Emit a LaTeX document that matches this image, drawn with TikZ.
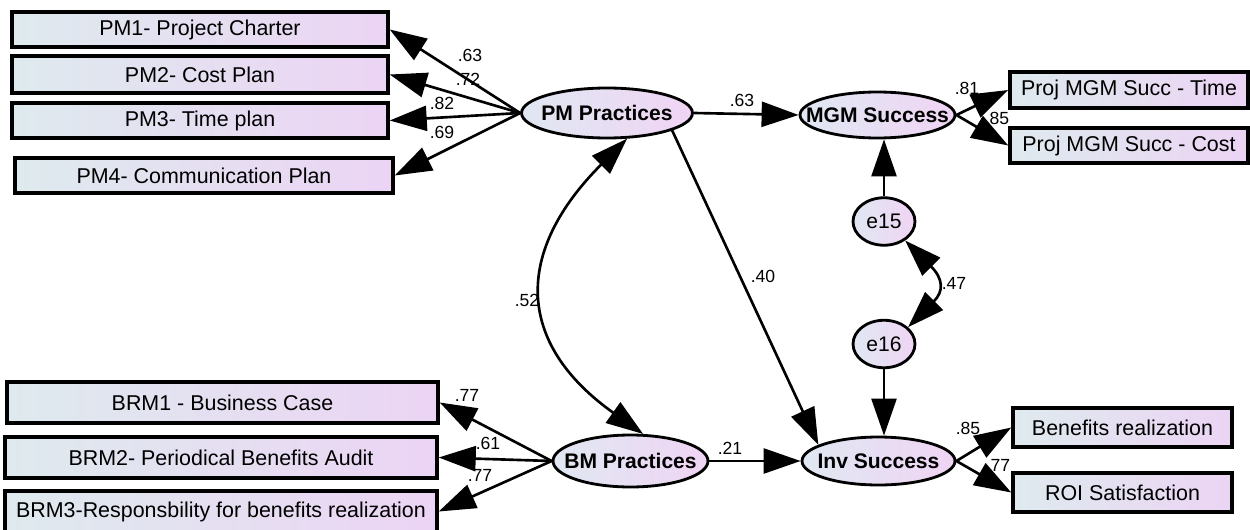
\documentclass[tikz,border=0pt]{standalone}
\usepackage{fontspec}
\setmainfont{Liberation Sans}
\usetikzlibrary{arrows.meta,shapes.geometric}
\definecolor{boxL}{RGB}{222,234,238}
\definecolor{boxR}{RGB}{236,212,244}
\definecolor{ellL}{RGB}{224,232,242}
\definecolor{ellR}{RGB}{240,212,244}
\tikzset{
  obsbox/.style={draw, line width=2pt, left color=boxL, right color=boxR, inner sep=0pt,
    font=\fontsize{12.2}{14}\selectfont, minimum height=0.72cm},
  latent/.style={ellipse, draw, line width=1.6pt, left color=ellL, right color=ellR, inner sep=0pt,
    label={[font=\bfseries\fontsize{12}{14}\selectfont, inner sep=0pt]center:#1}},
  errnode/.style={ellipse, draw, line width=1.6pt, left color=ellL, right color=ellR, inner sep=0pt,
    minimum width=1.24cm, minimum height=0.95cm,
    label={[font=\fontsize{12}{14}\selectfont, inner sep=0pt]center:#1}},
  path/.style={line width=1.5pt, -{Triangle[length=0.74cm,width=0.5cm]}},
  covpath/.style={line width=1.5pt, {Triangle[length=0.74cm,width=0.5cm]}-{Triangle[length=0.74cm,width=0.5cm]}},
  coef/.style={font=\fontsize{10}{11}\selectfont, inner sep=0pt}
}
\begin{document}
\begin{tikzpicture}[x=0.02cm,y=-0.02cm]
\useasboundingbox[fill=white] (0,0) rectangle (1250,530);
% observed boxes
\node[obsbox, minimum width=7.52cm, minimum height=0.70cm] (pm1) at (200,29.5) {PM1- Project Charter};
\node[obsbox, minimum width=7.52cm, minimum height=0.74cm] (pm2) at (200,74.5) {PM2- Cost Plan};
\node[obsbox, minimum width=7.52cm, minimum height=0.70cm] (pm3) at (200,120.5) {PM3- Time plan};
\node[obsbox, minimum width=7.56cm, minimum height=0.70cm] (pm4) at (204,175.5) {PM4- Communication Plan};
\node[obsbox, minimum width=4.76cm] (time) at (1129,90) {Proj MGM Succ - Time};
\node[obsbox, minimum width=4.76cm, minimum height=0.70cm] (cost) at (1129,145.5) {Proj MGM Succ - Cost};
\node[obsbox, minimum width=8.62cm, minimum height=0.82cm] (brm1) at (222.5,402.5) {BRM1 - Business Case};
\node[obsbox, minimum width=8.64cm, minimum height=0.82cm] (brm2) at (221,457.5) {BRM2- Periodical Benefits Audit};
\node[obsbox, minimum width=8.64cm, minimum height=0.82cm] (brm3) at (221,511.5) {BRM3-Responsbility for benefits realization};
\node[obsbox, minimum width=4.38cm, minimum height=0.78cm] (ben) at (1122.5,427.5) {Benefits realization};
\node[obsbox, minimum width=4.38cm, minimum height=0.78cm] (roi) at (1122.5,492.5) {ROI Satisfaction};
% latent
\node[latent=PM Practices, minimum width=3.42cm, minimum height=1.0cm] (pm) at (607,113) {};
\node[latent=MGM Success, minimum width=3.10cm, minimum height=0.92cm] (mgm) at (877.5,115) {};
\node[latent=BM Practices, minimum width=3.10cm, minimum height=1.04cm] (bm) at (630.5,461) {};
\node[latent=Inv Success, minimum width=3.06cm, minimum height=0.96cm] (inv) at (878.5,461) {};
\node[errnode=e15] (e15) at (884,221.5) {};
\node[errnode=e16] (e16) at (884,344) {};
% paths
\draw[path] (pm.west) -- (pm1.east);
\draw[path] (pm.west) -- (pm2.east);
\draw[path] (pm.west) -- (pm3.east);
\draw[path] (pm.west) -- (pm4.east);
\draw[path] (pm.east) -- (mgm.west);
\draw[path] (pm.-15) -- (inv.165);
\draw[path] (mgm.east) -- (time.west);
\draw[path] (mgm.east) -- (cost.west);
\draw[path] (e15.north) -- (mgm.south -| e15.north);
\draw[path] (e16.south) -- (inv.north -| e16.south);
\draw[path] (bm.west) -- (brm1.east);
\draw[path] (bm.west) -- (brm2.east);
\draw[path] (bm.west) -- (brm3.east);
\draw[path] (bm.east) -- (inv.west);
\draw[path] (inv.east) -- (ben.west);
\draw[path] (inv.east) -- (roi.west);
\draw[covpath] (pm.-52) .. controls +(-113,113) and +(-128,-91) .. (bm.65);
\draw[covpath] (e15.-42) .. controls +(38,38) and +(36,-36) .. (e16.35);
% coefficients
\node[coef] (c1) at (470,55) {.63};
\node[coef] (c2) at (468,79) {.72};
\node[coef] (c3) at (442,103) {.82};
\node[coef] (c4) at (442,132) {.69};
\node[coef] (c5) at (742,100) {.63};
\node[coef] (c6) at (967,88) {.81};
\node[coef] (c7) at (997,118) {.85};
\node[coef] (c8) at (763,276) {.40};
\node[coef] (c9) at (527,300) {.52};
\node[coef] (c10) at (954,283) {.47};
\node[coef] (c11) at (467,395) {.77};
\node[coef] (c12) at (488,443) {.61};
\node[coef] (c13) at (480,475) {.77};
\node[coef] (c14) at (730,448) {.21};
\node[coef] (c15) at (968,428) {.85};
\node[coef] (c16) at (998,465) {.77};
\end{tikzpicture}
\end{document}
